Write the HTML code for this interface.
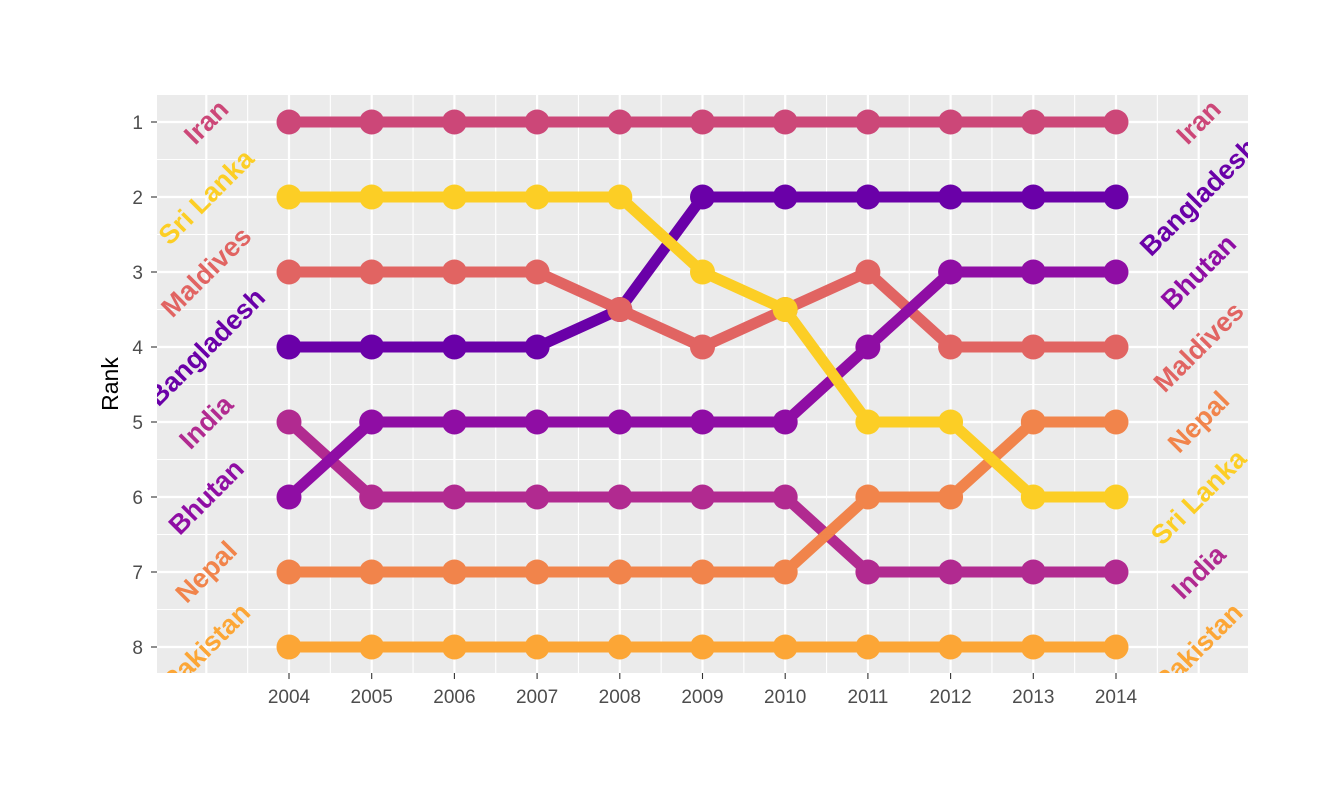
<!DOCTYPE html>
<html><head><meta charset="utf-8"><style>body{margin:0;background:#fff}svg{display:block}</style></head><body>
<svg width="1344" height="806" xmlns="http://www.w3.org/2000/svg" font-family="Liberation Sans, sans-serif">
<defs><clipPath id="c"><rect x="157" y="95" width="1091" height="578"/></clipPath></defs>
<rect x="157" y="95" width="1091" height="578" fill="#EBEBEB"/>
<g stroke="#fff" stroke-width="1.1" id="minor"></g>
<g stroke="#fff" stroke-width="2.2" id="major"></g>
<g id="series" clip-path="url(#c)"></g>
<g id="labels" clip-path="url(#c)" font-weight="bold" font-size="27" text-anchor="middle"></g>
<g id="axes" fill="#4D4D4D" font-size="19"></g>
<text transform="translate(118,384) rotate(-90)" text-anchor="middle" font-size="23" fill="#000">Rank</text>
<script>
const ns="http://www.w3.org/2000/svg";
function el(p,t,a,txt){const e=document.createElementNS(ns,t);for(const k in a)e.setAttribute(k,a[k]);if(txt!=null)e.textContent=txt;document.getElementById(p).appendChild(e);return e;}
const X=y=>289+(y-2004)*82.7, Y=r=>122+(r-1)*75;
for(let y=2003.5;y<=2014.5;y++)el("minor","line",{x1:X(y),x2:X(y),y1:95,y2:673});
for(let r=1.5;r<=7.5;r++)el("minor","line",{x1:157,x2:1248,y1:Y(r),y2:Y(r)});
for(let y=2003;y<=2015;y++)el("major","line",{x1:X(y),x2:X(y),y1:95,y2:673});
for(let r=1;r<=8;r++)el("major","line",{x1:157,x2:1248,y1:Y(r),y2:Y(r)});
const D={
Bangladesh:["#6A00A8",[4,4,4,4,3.5,2,2,2,2,2,2]],
Maldives:["#E16462",[3,3,3,3,3.5,4,3.5,3,4,4,4]],
India:["#B12A90",[5,6,6,6,6,6,6,7,7,7,7]],
Bhutan:["#8F0DA4",[6,5,5,5,5,5,5,4,3,3,3]],
Iran:["#CC4778",[1,1,1,1,1,1,1,1,1,1,1]],
Nepal:["#F1844B",[7,7,7,7,7,7,7,6,6,5,5]],
Pakistan:["#FCA636",[8,8,8,8,8,8,8,8,8,8,8]],
"Sri Lanka":["#FCCE25",[2,2,2,2,2,3,3.5,5,5,6,6]]};
for(const n in D){const [c,v]=D[n];
el("series","polyline",{points:v.map((r,i)=>X(2004+i)+","+Y(r)).join(" "),fill:"none",stroke:c,"stroke-width":11,"stroke-linejoin":"round"});
v.forEach((r,i)=>el("series","circle",{cx:X(2004+i),cy:Y(r),r:12.5,fill:c}));
el("labels","text",{x:X(2003),y:Y(v[0])+9,fill:c,transform:`rotate(-45 ${X(2003)} ${Y(v[0])})`},n);
el("labels","text",{x:X(2015),y:Y(v[10])+9,fill:c,transform:`rotate(-45 ${X(2015)} ${Y(v[10])})`},n);}
for(let r=1;r<=8;r++){el("axes","text",{x:143,y:Y(r)+7,"text-anchor":"end"},r);el("axes","line",{x1:151,x2:157,y1:Y(r),y2:Y(r),stroke:"#333","stroke-width":1.1});}
for(let y=2004;y<=2014;y++){el("axes","text",{x:X(y),y:703,"text-anchor":"middle"},y);el("axes","line",{x1:X(y),x2:X(y),y1:673,y2:679,stroke:"#333","stroke-width":1.1});}
</script>
</svg></body></html>
